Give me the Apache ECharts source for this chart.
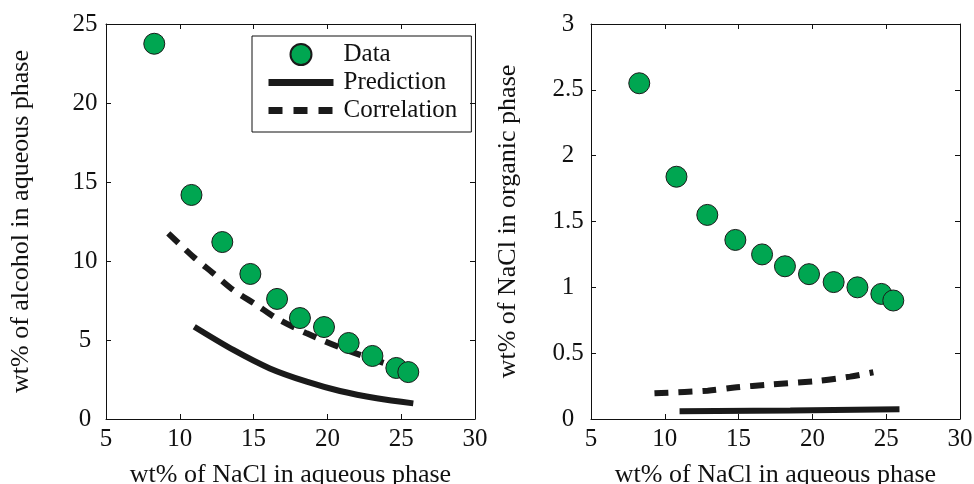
<!DOCTYPE html>
<html>
<head>
<meta charset="utf-8">
<script src="https://cdn.jsdelivr.net/npm/echarts@6/dist/echarts.min.js"></script>
<style>html,body{margin:0;padding:0;background:#fff}#c{width:974px;height:484px}</style>
</head>
<body>
<div id="c"></div>
<script>
// Shared x of experimental data (wt% NaCl in aqueous phase)
var dataX = [8.27, 10.79, 12.88, 14.78, 16.59, 18.14, 19.77, 21.44, 23.05, 24.67, 25.48];
// Left panel: wt% alcohol in aqueous phase
var leftDataY = [23.75, 14.18, 11.2, 9.18, 7.6, 6.39, 5.82, 4.81, 3.99, 3.23, 2.97];
var leftPredX = [10.98, 13.63, 16.1, 18.6, 20.85, 23.34, 25.82];
var leftPredY = [5.84, 4.37, 3.2, 2.36, 1.77, 1.31, 0.99];
var leftCorrX = [9.22, 10.91, 12.27, 13.63, 15.2, 16.56, 18.6, 21.3, 24.58, 24.9];
var leftCorrY = [11.75, 10.27, 9.22, 8.16, 7.22, 6.37, 5.42, 4.37, 3.31, 3.2];
// Right panel: wt% NaCl in organic phase
var rightDataY = [2.55, 1.84, 1.55, 1.36, 1.25, 1.16, 1.1, 1.04, 1.0, 0.95, 0.9];
var rightPredX = [11.0, 18.5, 25.9];
var rightPredY = [0.058, 0.065, 0.074];
var rightCorrX = [9.3, 12.9, 14.88, 17.0, 20.5, 22.55, 24.13];
var rightCorrY = [0.195, 0.215, 0.241, 0.26, 0.291, 0.322, 0.355];

var xTitle = 'wt% of NaCl in aqueous phase';
var leftYTitle = 'wt% of alcohol in aqueous phase';
var rightYTitle = 'wt% of NaCl in organic phase';
var seriesNames = ['Data', 'Prediction', 'Correlation'];

function zip(xs, ys) { return xs.map(function (x, i) { return [x, ys[i]]; }); }

var FONT = 'Liberation Serif';
var FS = 25;
var TFS = 26;
var INK = '#111';
var LINE = '#1a1a1a';
var GREEN = '#00a651';

function xAx(grid, pos, labels) {
  return {
    type: 'value', gridIndex: grid, position: pos, min: 5, max: 30, interval: 5,
    axisLine: { show: true, onZero: false, lineStyle: { color: INK, width: 1 } },
    axisTick: { show: true, inside: true, length: 5, lineStyle: { color: INK } },
    axisLabel: { show: labels, color: INK, fontFamily: FONT, fontSize: FS, margin: 8 },
    splitLine: { show: false },
    name: labels ? xTitle : '', nameLocation: 'middle', nameGap: 43,
    nameTextStyle: { color: INK, fontFamily: FONT, fontSize: TFS }
  };
}
function yAx(grid, pos, labels, max, interval, title, gap, margin) {
  return {
    type: 'value', gridIndex: grid, position: pos, min: 0, max: max, interval: interval,
    axisLine: { show: true, onZero: false, lineStyle: { color: INK, width: 1 } },
    axisTick: { show: true, inside: true, length: 5, lineStyle: { color: INK } },
    axisLabel: { show: labels, color: INK, fontFamily: FONT, fontSize: FS, margin: margin, align: 'center' },
    splitLine: { show: false },
    name: labels ? title : '', nameLocation: 'middle', nameGap: gap,
    nameTextStyle: { color: INK, fontFamily: FONT, fontSize: TFS }
  };
}

var scatterStyle = { color: GREEN, opacity: 1, borderColor: '#1a1a1a', borderWidth: 1 };
var solidStyle = { color: LINE, width: 6, type: 'solid' };
var dashStyle = { color: LINE, width: 6, type: [14, 10] };
var hiddenSym = { opacity: 0, borderWidth: 0, color: 'transparent' };

var option = {
  animation: false,
  backgroundColor: '#fff',
  grid: [
    { left: 106, top: 24, width: 369, height: 395, outerBoundsMode: 'none', containLabel: false },
    { left: 591, top: 24, width: 369, height: 395, outerBoundsMode: 'none', containLabel: false }
  ],
  xAxis: [xAx(0, 'bottom', true), xAx(0, 'top', false), xAx(1, 'bottom', true), xAx(1, 'top', false)],
  yAxis: [
    yAx(0, 'left', true, 25, 5, leftYTitle, 72, 21),
    yAx(0, 'right', false, 25, 5, '', 0, 0),
    yAx(1, 'left', true, 3, 0.5, rightYTitle, 70, 23),
    yAx(1, 'right', false, 3, 0.5, '', 0, 0)
  ],
  legend: {
    data: [
      { name: 'Data', icon: 'circle' },
      { name: 'Prediction', itemStyle: hiddenSym, lineStyle: { width: 7, type: 'solid', color: LINE } },
      { name: 'Correlation', itemStyle: hiddenSym, lineStyle: { width: 7, type: [14, 11], color: LINE } }
    ],
    orient: 'vertical', left: 252, top: 36,
    itemWidth: 65, itemHeight: 21, itemGap: 3,
    borderColor: INK, borderWidth: 1, borderRadius: 0,
    padding: [6, 14, 9, 13],
    textStyle: { color: INK, fontFamily: FONT, fontSize: FS, lineHeight: 22, padding: [0, 0, 0, 5] }
  },
  series: [
    { name: 'Data', type: 'scatter', xAxisIndex: 0, yAxisIndex: 0, symbol: 'circle', symbolSize: 21, itemStyle: scatterStyle, data: zip(dataX, leftDataY), z: 3 },
    { name: 'Prediction', type: 'line', xAxisIndex: 0, yAxisIndex: 0, symbol: 'none', smooth: 0.3, lineStyle: solidStyle, itemStyle: { color: LINE }, data: zip(leftPredX, leftPredY), z: 2 },
    { name: 'Correlation', type: 'line', xAxisIndex: 0, yAxisIndex: 0, symbol: 'none', smooth: 0.3, lineStyle: dashStyle, itemStyle: { color: LINE }, data: zip(leftCorrX, leftCorrY), z: 2 },
    { name: 'Data', type: 'scatter', xAxisIndex: 2, yAxisIndex: 2, symbol: 'circle', symbolSize: 21, itemStyle: scatterStyle, data: zip(dataX, rightDataY), z: 3 },
    { name: 'Prediction', type: 'line', xAxisIndex: 2, yAxisIndex: 2, symbol: 'none', lineStyle: solidStyle, itemStyle: { color: LINE }, data: zip(rightPredX, rightPredY), z: 2 },
    { name: 'Correlation', type: 'line', xAxisIndex: 2, yAxisIndex: 2, symbol: 'none', smooth: 0.3, lineStyle: dashStyle, itemStyle: { color: LINE }, data: zip(rightCorrX, rightCorrY), z: 2 }
  ]
};
var chart = echarts.init(document.getElementById('c'), null, { renderer: 'canvas' });
chart.setOption(option);
</script>
</body>
</html>
